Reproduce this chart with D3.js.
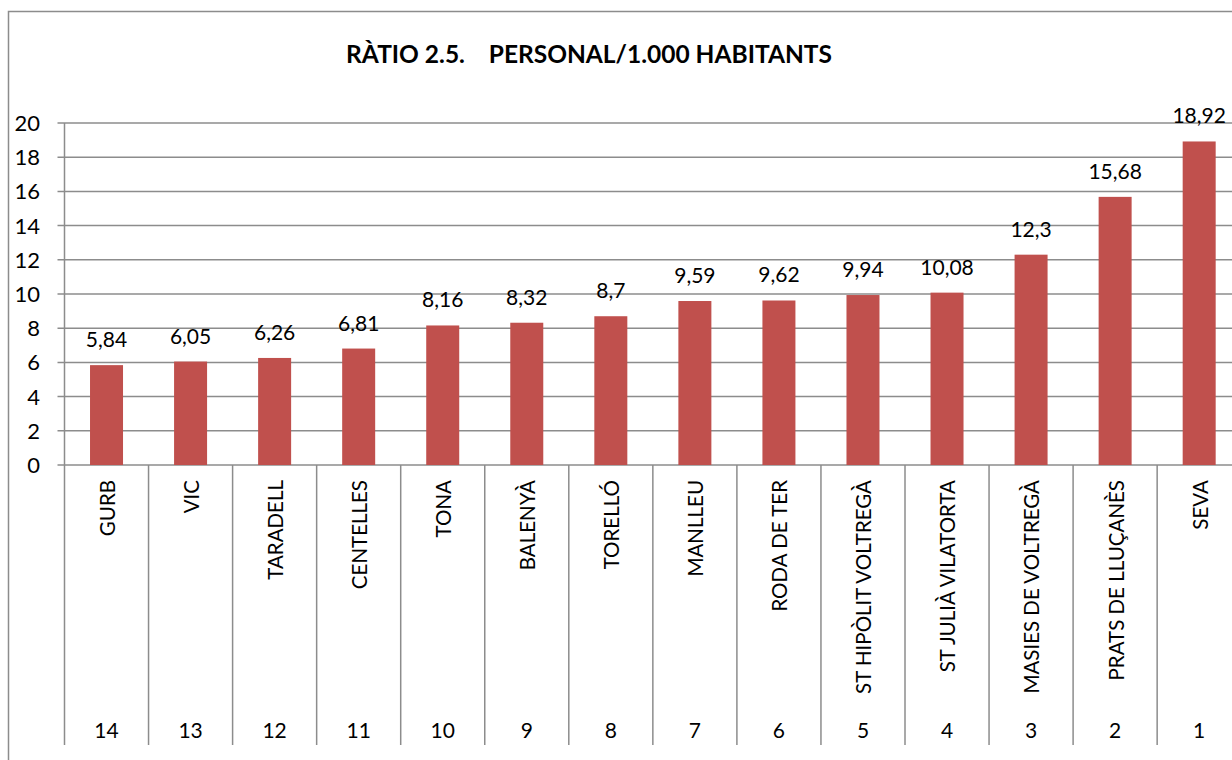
<!DOCTYPE html>
<html>
<head>
<meta charset="utf-8">
<script src="https://cdn.jsdelivr.net/npm/d3@7"></script>
<style>
  body { margin: 0; background: #fff; }
  svg { display: block; font-family: Lato, "Open Sans", sans-serif; }
</style>
</head>
<body>
<svg></svg>
<script>
const municipis = [
    "GURB", "VIC", "TARADELL", "CENTELLES", "TONA", "BALENYÀ", "TORELLÓ",
    "MANLLEU", "RODA DE TER", "ST HIPÒLIT VOLTREGÀ", "ST JULIÀ VILATORTA",
    "MASIES DE VOLTREGÀ", "PRATS DE LLUÇANÈS", "SEVA"
];
const posicio = [14, 13, 12, 11, 10, 9, 8, 7, 6, 5, 4, 3, 2, 1];
const ratio = [5.84, 6.05, 6.26, 6.81, 8.16, 8.32, 8.7, 9.59, 9.62, 9.94, 10.08, 12.3, 15.68, 18.92];
const yTicks = [0, 2, 4, 6, 8, 10, 12, 14, 16, 18, 20];

const width = 1232;
const height = 760;
const gridColor = "#8c8c8c";

const svg = d3.select("svg")
    .attr("width", width)
    .attr("height", height);

// outer chart border (cropped at right and bottom)
svg.append("rect")
    .attr("x", 8.5)
    .attr("y", 11.5)
    .attr("width", 1300)
    .attr("height", 900)
    .attr("fill", "none")
    .attr("stroke", gridColor)
    .attr("stroke-width", 1.5);

const plotLeft = 64.5;
const bandW = 84.05;

const x = d3.scaleBand()
    .domain(municipis)
    .range([plotLeft, plotLeft + bandW * municipis.length]);

const y = d3.scaleLinear()
    .domain([0, 20])
    .range([465, 123]);

const catBottom = 745;

// gridlines + left ticks
svg.append("g")
    .selectAll("line")
    .data(yTicks)
    .enter()
    .append("line")
    .attr("x1", plotLeft - 7)
    .attr("x2", x.range()[1])
    .attr("y1", d => y(d))
    .attr("y2", d => y(d))
    .attr("stroke", gridColor)
    .attr("stroke-width", 1.5);

// y tick labels
svg.append("g")
    .selectAll("text")
    .data(yTicks)
    .enter()
    .append("text")
    .attr("x", 40)
    .attr("y", d => y(d))
    .attr("dy", "0.36em")
    .attr("text-anchor", "end")
    .style("font-size", "22px")
    .style("fill", "#000")
    .text(d => d);

// vertical axis line
svg.append("line")
    .attr("x1", plotLeft)
    .attr("x2", plotLeft)
    .attr("y1", y(20))
    .attr("y2", y(0))
    .attr("stroke", gridColor)
    .attr("stroke-width", 1.5);

// category separators
const bounds = municipis.map(m => x(m)).concat([x.range()[1]]);
svg.append("g")
    .selectAll("line")
    .data(bounds)
    .enter()
    .append("line")
    .attr("x1", d => d)
    .attr("x2", d => d)
    .attr("y1", y(0))
    .attr("y2", catBottom)
    .attr("stroke", gridColor)
    .attr("stroke-width", 1.5);

// bars
const barW = 33;
svg.append("g")
    .selectAll("rect")
    .data(ratio)
    .enter()
    .append("rect")
    .attr("x", (d, i) => x(municipis[i]) + x.bandwidth() / 2 - barW / 2)
    .attr("y", d => y(d))
    .attr("width", barW)
    .attr("height", d => y(0) - y(d))
    .attr("fill", "#c0504d");

// value labels
svg.append("g")
    .selectAll("text")
    .data(ratio)
    .enter()
    .append("text")
    .attr("x", (d, i) => x(municipis[i]) + x.bandwidth() / 2)
    .attr("y", d => y(d) - 18)
    .attr("text-anchor", "middle")
    .style("font-size", "21px")
    .style("fill", "#000")
    .text(d => String(d).replace(".", ","));

// category labels (rotated)
svg.append("g")
    .selectAll("text")
    .data(municipis)
    .enter()
    .append("text")
    .attr("transform", d => `translate(${x(d) + x.bandwidth() / 2 + 1}, 480) rotate(-90)`)
    .attr("dy", "0.36em")
    .attr("text-anchor", "end")
    .style("font-size", "20.5px")
    .style("fill", "#000")
    .text(d => d);

// rank labels
svg.append("g")
    .selectAll("text")
    .data(posicio)
    .enter()
    .append("text")
    .attr("x", (d, i) => x(municipis[i]) + x.bandwidth() / 2)
    .attr("y", 738)
    .attr("text-anchor", "middle")
    .style("font-size", "21px")
    .style("fill", "#000")
    .text(d => d);

// title
svg.append("text")
    .attr("x", 589)
    .attr("y", 63)
    .attr("text-anchor", "middle")
    .attr("xml:space", "preserve")
    .style("white-space", "pre")
    .style("font-size", "24.5px")
    .style("font-weight", "bold")
    .style("fill", "#000")
    .text("RÀTIO 2.5.    PERSONAL/1.000 HABITANTS");
</script>
</body>
</html>
